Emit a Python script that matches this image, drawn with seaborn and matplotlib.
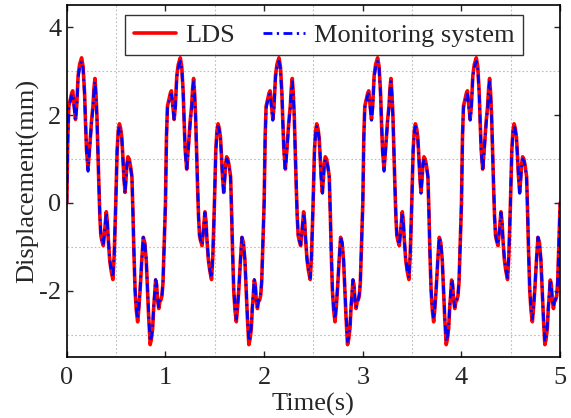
import numpy as np
import pandas as pd
import matplotlib
matplotlib.use("Agg")
import matplotlib.pyplot as plt
from matplotlib.ticker import MultipleLocator
import seaborn as sns

# ── data: one period (1 s), repeated for 5 s ──
t_period = [0.000, 0.010, 0.020, 0.035, 0.050, 0.060, 0.075, 0.088, 0.100, 0.115,
            0.130, 0.150, 0.165, 0.180, 0.190, 0.200, 0.215, 0.230, 0.250, 0.265,
            0.275, 0.285, 0.295, 0.305, 0.315, 0.325, 0.335, 0.345, 0.355, 0.370,
            0.385, 0.400, 0.410, 0.420, 0.435, 0.450, 0.467, 0.480, 0.495, 0.510,
            0.522, 0.533, 0.545, 0.557, 0.567, 0.578, 0.590, 0.600, 0.610, 0.620,
            0.632, 0.645, 0.660, 0.670, 0.680, 0.692, 0.705, 0.718, 0.730, 0.745,
            0.760, 0.775, 0.790, 0.805, 0.818, 0.830, 0.845, 0.857, 0.870, 0.880,
            0.890, 0.900, 0.910, 0.920, 0.932, 0.942, 0.955, 0.965, 0.975, 0.985,
            0.993]
lds_period = [0.00, 1.50, 2.20, 2.35, 2.50, 2.55, 2.20, 1.90, 2.20, 2.90,
              3.15, 3.30, 3.10, 2.50, 1.80, 1.20, 0.77, 1.20, 1.85, 2.20,
              2.60, 2.83, 2.50, 2.00, 1.20, 0.40, -0.30, -0.74, -0.85, -0.97,
              -0.60, -0.20, -0.40, -0.82, -1.30, -1.55, -1.74, -1.20, -0.10, 1.20,
              1.65, 1.80, 1.70, 1.50, 1.10, 0.60, 0.24, 0.55, 0.90, 1.05,
              1.00, 0.85, 0.60, -0.20, -1.10, -2.00, -2.45, -2.70, -2.40, -1.90,
              -1.30, -0.78, -0.90, -1.30, -2.00, -2.60, -3.22, -3.10, -2.85, -2.40,
              -2.10, -1.75, -1.85, -2.20, -2.40, -2.25, -2.20, -2.10, -1.80, -1.10,
              -0.50]
mon_period = [0.00, 1.45, 2.15, 2.30, 2.45, 2.48, 2.15, 1.88, 2.15, 2.85,
              3.08, 3.22, 3.05, 2.45, 1.78, 1.18, 0.72, 1.18, 1.80, 2.15,
              2.55, 2.76, 2.45, 1.95, 1.18, 0.40, -0.28, -0.72, -0.84, -0.95,
              -0.60, -0.22, -0.40, -0.80, -1.28, -1.52, -1.70, -1.18, -0.10, 1.18,
              1.60, 1.74, 1.66, 1.46, 1.08, 0.58, 0.22, 0.52, 0.88, 1.00,
              0.96, 0.82, 0.58, -0.20, -1.08, -1.96, -2.40, -2.64, -2.36, -1.88,
              -1.28, -0.78, -0.90, -1.28, -1.96, -2.55, -3.15, -3.05, -2.80, -2.36,
              -2.06, -1.74, -1.84, -2.18, -2.36, -2.22, -2.18, -2.06, -1.78, -1.08,
              -0.50]
n_periods = 5

legend_labels = ["LDS", "Monitoring system"]
x_label = "Time(s)"
y_label = "Displacement(mm)"

# build the full series
t_all = np.concatenate([np.array(t_period) + k for k in range(n_periods)] + [[n_periods]])
lds_all = np.concatenate([lds_period] * n_periods + [[lds_period[0]]])
mon_all = np.concatenate([mon_period] * n_periods + [[mon_period[0]]])
df = pd.DataFrame({"t": t_all, "lds": lds_all, "mon": mon_all})

# ── style ──
sns.set_style("ticks")
plt.rcParams["font.family"] = ["Liberation Serif", "DejaVu Serif"]
plt.rcParams["axes.unicode_minus"] = False
plt.rcParams["font.size"] = 19

fig = plt.figure(figsize=(5.71, 4.18), dpi=100)
ax = fig.add_axes([0.117, 0.146, 0.864, 0.842])

sns.lineplot(data=df, x="t", y="lds", ax=ax, color="#ff0000", linewidth=2.6,
             label=legend_labels[0], sort=False, estimator=None)
sns.lineplot(data=df, x="t", y="mon", ax=ax, color="#0000ff", linewidth=2.0,
             linestyle=(0, (3.2, 1.6, 0.8, 1.6)), label=legend_labels[1],
             sort=False, estimator=None)

ax.set_xlim(0, 5)
ax.set_ylim(-3.5, 4.5)
ax.xaxis.set_major_locator(MultipleLocator(1))
ax.yaxis.set_major_locator(MultipleLocator(2))
ax.set_xticks(np.arange(0.5, 5, 1), minor=True)
ax.set_yticks(np.arange(-3, 4.5, 2), minor=True)
ax.grid(which="minor", linestyle=(0, (1.5, 2)), color="#bdbdbd", linewidth=0.8)
ax.grid(which="major", visible=False)
ax.tick_params(which="major", direction="in", length=4, width=1.0,
               top=True, right=True, labelsize=19, pad=4)
ax.tick_params(axis="x", which="major", pad=7)
ax.tick_params(which="minor", length=0)
for s in ax.spines.values():
    s.set_linewidth(1.2)
    s.set_color("black")

ax.set_xlabel(x_label, fontsize=19, labelpad=3)
ax.set_ylabel(y_label, fontsize=19, labelpad=0)

leg = ax.legend(loc="upper right", bbox_to_anchor=(0.925, 0.972), ncol=2,
                fontsize=19, frameon=True, fancybox=False, edgecolor="black",
                handlelength=1.6, handletextpad=0.35, columnspacing=1.05,
                borderpad=0.32, borderaxespad=0)
leg.get_frame().set_linewidth(1.0)

fig.savefig("out.png", dpi=100)
